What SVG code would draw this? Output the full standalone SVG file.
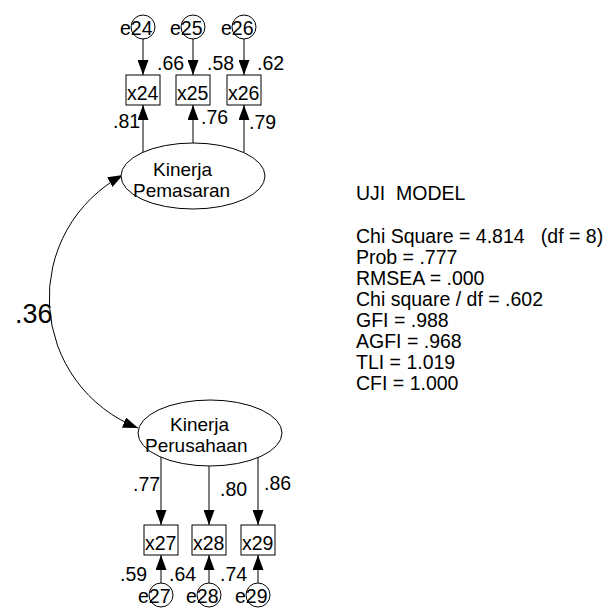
<svg xmlns="http://www.w3.org/2000/svg" width="612" height="610" viewBox="0 0 612 610">
<defs>
<style>
text{font-family:"Liberation Sans",Arial,sans-serif;font-size:19.5px;fill:#000;white-space:pre}
.big{font-size:27px}
.lv{font-size:19px}
.n{fill:#fff;stroke:#000;stroke-width:1}
.c{fill:none;stroke:#000;stroke-width:1}
.a{marker-end:url(#arr)}
</style>
<marker id="arr" markerUnits="userSpaceOnUse" markerWidth="15" markerHeight="11" refX="15" refY="5.5" orient="auto-start-reverse">
<path d="M0,0 L15,5.5 L0,11 z" fill="#000"/>
</marker>
</defs>
<rect width="612" height="610" fill="#fff"/>
<g id="connectors">
<path class="c a" d="M143,39 L143,75"/>
<path class="c a" d="M193,39 L193,75"/>
<path class="c a" d="M244,39 L244,75"/>
<path class="c a" d="M143,152 L143,105"/>
<path class="c a" d="M193,143 L193,105"/>
<path class="c a" d="M244,152 L244,105"/>
<path class="c a" d="M161,457 L161,525"/>
<path class="c a" d="M209,466 L209,525"/>
<path class="c a" d="M258,457 L258,525"/>
<path class="c a" d="M161,583 L161,555"/>
<path class="c a" d="M209,583 L209,555"/>
<path class="c a" d="M258,583 L258,555"/>
<path class="c a" style="marker-start:url(#arr)" d="M123,175 A139.5,139.5 0 0,0 138,428"/>
<text x="157" y="70">.66</text>
<text x="207" y="70">.58</text>
<text x="257" y="70">.62</text>
<text x="113" y="128">.81</text>
<text x="201" y="124">.76</text>
<text x="249" y="129">.79</text>
<text class="big" x="15" y="323">.36</text>
<text x="133" y="491">.77</text>
<text x="220" y="496">.80</text>
<text x="264" y="490">.86</text>
<text x="120" y="581">.59</text>
<text x="169" y="581">.64</text>
<text x="220" y="581">.74</text>
</g>
<g id="e24"><circle class="n" cx="143" cy="27" r="12"/><text x="120" y="35">e24</text></g>
<g id="e25"><circle class="n" cx="193" cy="27" r="12"/><text x="170" y="35">e25</text></g>
<g id="e26"><circle class="n" cx="244" cy="27" r="12"/><text x="221" y="35">e26</text></g>
<g id="x24"><rect class="n" x="126" y="75" width="34" height="30"/><text x="127" y="100">x24</text></g>
<g id="x25"><rect class="n" x="176" y="75" width="34" height="30"/><text x="177" y="100">x25</text></g>
<g id="x26"><rect class="n" x="227" y="75" width="34" height="30"/><text x="228" y="100">x26</text></g>
<g id="kinerja-pemasaran"><ellipse class="n" cx="193" cy="176" rx="72" ry="33"/><text class="lv" x="153" y="176">Kinerja</text><text class="lv" x="133" y="197">Pemasaran</text></g>
<g id="kinerja-perusahaan"><ellipse class="n" cx="210" cy="433" rx="72" ry="33"/><text class="lv" x="170" y="431">Kinerja</text><text class="lv" x="145" y="452">Perusahaan</text></g>
<g id="x27"><rect class="n" x="144" y="525" width="34" height="30"/><text x="145" y="550">x27</text></g>
<g id="x28"><rect class="n" x="192" y="525" width="34" height="30"/><text x="193" y="550">x28</text></g>
<g id="x29"><rect class="n" x="241" y="525" width="34" height="30"/><text x="242" y="550">x29</text></g>
<g id="e27"><circle class="n" cx="161" cy="595" r="12"/><text x="138" y="603">e27</text></g>
<g id="e28"><circle class="n" cx="209" cy="595" r="12"/><text x="186" y="603">e28</text></g>
<g id="e29"><circle class="n" cx="258" cy="595" r="12"/><text x="235" y="603">e29</text></g>
<g id="model-fit">
<text x="356" y="200">UJI  MODEL</text>
<text x="356" y="243">Chi Square = 4.814   (df = 8)</text>
<text x="356" y="264">Prob = .777</text>
<text x="356" y="285">RMSEA = .000</text>
<text x="356" y="306">Chi square / df = .602</text>
<text x="356" y="327">GFI = .988</text>
<text x="356" y="348">AGFI = .968</text>
<text x="356" y="369">TLI = 1.019</text>
<text x="356" y="390">CFI = 1.000</text>
</g>
</svg>
